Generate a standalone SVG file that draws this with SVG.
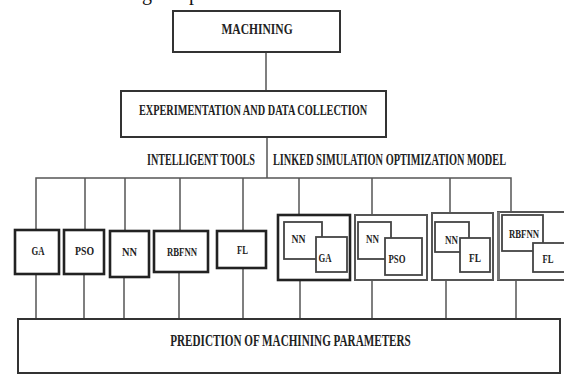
<svg xmlns="http://www.w3.org/2000/svg" width="564" height="374" viewBox="0 0 564 374">
<style>
.box{fill:#fff;stroke:#333;stroke-width:2}
.sbox{fill:#fff;stroke:#222;stroke-width:2.6}
.obox{fill:#fff;stroke:#555;stroke-width:2}
.ibox{fill:#fff;stroke:#444;stroke-width:1.8}
.t{font-family:"Liberation Serif",serif;font-weight:bold;fill:#222;text-anchor:middle}
.frag{font-family:"Liberation Serif",serif;font-size:20px;fill:#111}
.c{stroke:#555;stroke-width:1.5;fill:none}
</style>
<rect width="564" height="374" fill="#fff"/>
<text class="frag" x="142" y="-0.5">g</text>
<text class="frag" x="189" y="-0.5">p</text>
<g id="connectors">
<line class="c" x1="266" y1="52" x2="266" y2="91"/>
<line class="c" x1="267" y1="137" x2="267" y2="178"/>
<polyline class="c" points="36,232 36,178 511,178 511,212"/>
<line class="c" x1="85" y1="178" x2="85" y2="231"/>
<line class="c" x1="125" y1="178" x2="125" y2="232"/>
<line class="c" x1="180" y1="178" x2="180" y2="232"/>
<line class="c" x1="243" y1="178" x2="243" y2="232"/>
<line class="c" x1="299" y1="178" x2="299" y2="216"/>
<line class="c" x1="372" y1="178" x2="372" y2="216"/>
<line class="c" x1="450" y1="178" x2="450" y2="214"/>
<line class="c" x1="36" y1="274" x2="36" y2="319"/>
<line class="c" x1="84" y1="274" x2="84" y2="319"/>
<line class="c" x1="124" y1="277" x2="124" y2="319"/>
<line class="c" x1="179" y1="272" x2="179" y2="319"/>
<line class="c" x1="243" y1="268" x2="243" y2="319"/>
<line class="c" x1="300" y1="280" x2="300" y2="319"/>
<line class="c" x1="372" y1="280" x2="372" y2="319"/>
<line class="c" x1="446" y1="280" x2="446" y2="319"/>
<line class="c" x1="516" y1="280" x2="516" y2="319"/>
</g>
<g id="machining">
<rect class="box" x="173" y="11" width="167" height="41"/>
<text class="t" transform="translate(257,34) scale(0.8,1)" font-size="14" textLength="89" lengthAdjust="spacingAndGlyphs">MACHINING</text>
</g>
<g id="experimentation">
<rect class="box" x="121" y="91" width="265" height="46"/>
<text class="t" transform="translate(253,115) scale(0.72,1)" font-size="14" textLength="317" lengthAdjust="spacingAndGlyphs">EXPERIMENTATION AND DATA COLLECTION</text>
</g>
<g id="labels">
<text class="t" transform="translate(201,165) scale(0.62,1)" font-size="16" textLength="174" lengthAdjust="spacingAndGlyphs">INTELLIGENT TOOLS</text>
<text class="t" transform="translate(389.5,165) scale(0.63,1)" font-size="16" textLength="370" lengthAdjust="spacingAndGlyphs">LINKED SIMULATION OPTIMIZATION MODEL</text>
</g>
<g id="ga">
<rect class="sbox" x="15" y="230" width="44" height="44"/>
<text class="t" x="38" y="255" font-size="13" textLength="13" lengthAdjust="spacingAndGlyphs">GA</text>
</g>
<g id="pso">
<rect class="sbox" x="64" y="230" width="40" height="44"/>
<text class="t" x="84.5" y="255" font-size="13" textLength="19" lengthAdjust="spacingAndGlyphs">PSO</text>
</g>
<g id="nn">
<rect class="sbox" x="110" y="231" width="39" height="46"/>
<text class="t" x="129.5" y="256" font-size="13" textLength="15" lengthAdjust="spacingAndGlyphs">NN</text>
</g>
<g id="rbfnn">
<rect class="sbox" x="154" y="231" width="54" height="41"/>
<text class="t" transform="translate(182,256) scale(0.7,1)" font-size="13" textLength="43" lengthAdjust="spacingAndGlyphs">RBFNN</text>
</g>
<g id="fl">
<rect class="sbox" x="217" y="231" width="49" height="37"/>
<text class="t" x="242.5" y="254" font-size="13" textLength="11" lengthAdjust="spacingAndGlyphs">FL</text>
</g>
<g id="nn-ga">
<rect class="sbox" x="278" y="215" width="72" height="65"/>
<rect class="ibox" x="284" y="222" width="38" height="37"/>
<rect class="ibox" x="316" y="237" width="31" height="35"/>
<text class="t" x="298.5" y="243" font-size="13" textLength="14" lengthAdjust="spacingAndGlyphs">NN</text>
<text class="t" x="325" y="262" font-size="13" textLength="13" lengthAdjust="spacingAndGlyphs">GA</text>
</g>
<g id="nn-pso">
<rect class="obox" x="355" y="215" width="72" height="65"/>
<rect class="ibox" x="358" y="222" width="33" height="37"/>
<rect class="ibox" x="385" y="238" width="37" height="37"/>
<text class="t" x="372.5" y="243" font-size="13" textLength="13" lengthAdjust="spacingAndGlyphs">NN</text>
<text class="t" x="397" y="263" font-size="13" textLength="17" lengthAdjust="spacingAndGlyphs">PSO</text>
</g>
<g id="nn-fl">
<rect class="obox" x="432" y="213" width="61" height="67"/>
<rect class="ibox" x="435" y="222" width="34" height="30"/>
<rect class="ibox" x="460" y="238" width="30" height="34"/>
<text class="t" x="451.5" y="244" font-size="13" textLength="13" lengthAdjust="spacingAndGlyphs">NN</text>
<text class="t" x="475" y="262" font-size="13" textLength="12" lengthAdjust="spacingAndGlyphs">FL</text>
</g>
<g id="rbfnn-fl">
<rect class="obox" x="498" y="212" width="70" height="68"/>
<line x1="498.5" y1="212" x2="498.5" y2="280" stroke="#777" stroke-width="3"/>
<rect class="ibox" x="502" y="215" width="41" height="36"/>
<rect class="ibox" x="533" y="243" width="34" height="29"/>
<text class="t" transform="translate(524,238) scale(0.7,1)" font-size="13" textLength="43" lengthAdjust="spacingAndGlyphs">RBFNN</text>
<text class="t" x="548" y="263" font-size="13" textLength="11" lengthAdjust="spacingAndGlyphs">FL</text>
</g>
<g id="prediction">
<rect class="box" x="18" y="319" width="542" height="54"/>
<text class="t" transform="translate(290.5,346) scale(0.65,1)" font-size="16" textLength="370" lengthAdjust="spacingAndGlyphs">PREDICTION OF MACHINING PARAMETERS</text>
</g>
</svg>
